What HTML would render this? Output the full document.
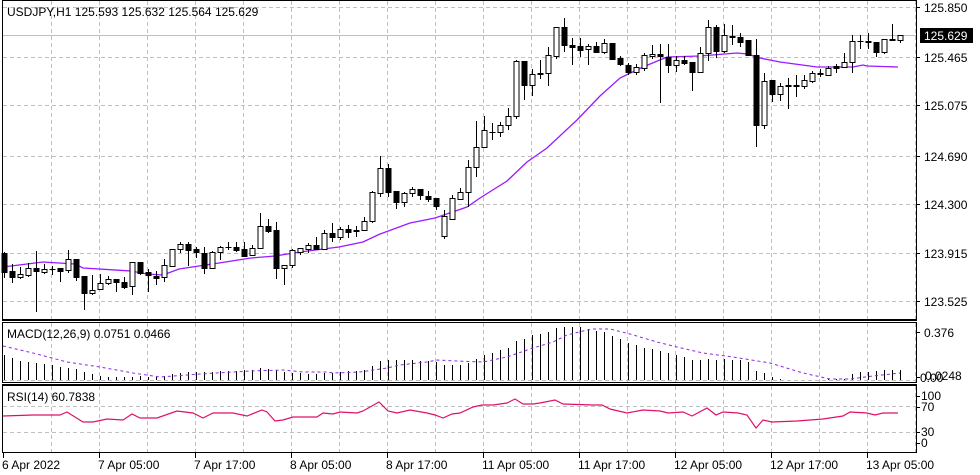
<!DOCTYPE html>
<html><head><meta charset="utf-8">
<style>
html,body{margin:0;padding:0;background:#fff;}
svg{display:block;}
text{font-family:"Liberation Sans","DejaVu Sans",sans-serif;font-size:12px;fill:#000;}
</style></head>
<body>
<svg id="c" width="980" height="475" xmlns="http://www.w3.org/2000/svg">
<rect width="980" height="475" fill="#fff"/>
<g id="grid" stroke="#c0c0c0" stroke-dasharray="4,3" stroke-width="1"></g>
<line x1="3" y1="35.5" x2="916" y2="35.5" stroke="#c0c0c0"/>
<g id="ma"></g>
<g id="candles"></g>
<g id="macd"></g>
<g id="rsi"></g>
<!-- frames -->
<rect x="2.5" y="0.5" width="914" height="319" fill="none" stroke="#000"/>
<rect x="2.5" y="322.5" width="914" height="60" fill="none" stroke="#000"/>
<rect x="2.5" y="385.5" width="914" height="67" fill="none" stroke="#000"/>
<line x1="2" y1="320.5" x2="917" y2="320.5" stroke="#000"/>
<line x1="2" y1="384.5" x2="917" y2="384.5" stroke="#000"/>
<g id="ticks" stroke="#000"></g>
<text x="7" y="16">USDJPY,H1  125.593 125.632 125.564 125.629</text>
<text x="7" y="338">MACD(12,26,9) 0.0751 0.0466</text>
<text x="7" y="401">RSI(14) 60.7838</text>
<g>
<text x="924" y="12">125.850</text>
<rect x="920" y="28" width="53" height="15" fill="#000"/>
<text x="924" y="40" style="fill:#fff">125.629</text>
<text x="924" y="62">125.465</text>
<text x="924" y="110">125.075</text>
<text x="924" y="161">124.690</text>
<text x="924" y="209">124.300</text>
<text x="924" y="258">123.915</text>
<text x="924" y="306">123.525</text>
<text x="924" y="337">0.376</text>
<text x="920" y="382">0.00</text>
<text x="925" y="380">0.0248</text>
<text x="921" y="400">100</text>
<text x="921" y="411">70</text>
<text x="921" y="436">30</text>
<text x="921" y="447">0</text>
</g>
<g>
<text x="2" y="469">6 Apr 2022</text>
<text x="98" y="469">7 Apr 05:00</text>
<text x="194" y="469">7 Apr 17:00</text>
<text x="290" y="469">8 Apr 05:00</text>
<text x="386" y="469">8 Apr 17:00</text>
<text x="482" y="469">11 Apr 05:00</text>
<text x="578" y="469">11 Apr 17:00</text>
<text x="674" y="469">12 Apr 05:00</text>
<text x="770" y="469">12 Apr 17:00</text>
<text x="866" y="469">13 Apr 05:00</text>
</g>
</svg>
<script>
var NS="http://www.w3.org/2000/svg";
function el(p,n,a){var e=document.createElementNS(NS,n);for(var k in a)e.setAttribute(k,a[k]);p.appendChild(e);return e;}
var g=document.getElementById('grid');
[7,57,105,156,204,253,301].forEach(function(y){el(g,'line',{x1:3,y1:y+.5,x2:916,y2:y+.5});});
for(var x=51.5;x<916;x+=48){
 el(g,'line',{x1:x,y1:1,x2:x,y2:319});
 el(g,'line',{x1:x,y1:323,x2:x,y2:382});
 el(g,'line',{x1:x,y1:386,x2:x,y2:452});
}
[380.5].forEach(function(y){el(g,'line',{x1:3,y1:y,x2:916,y2:y});});
[406.5,432.5].forEach(function(y){el(g,'line',{x1:3,y1:y,x2:916,y2:y});});
var tk=document.getElementById('ticks');
for(var t=3.5;t<916;t+=96){el(tk,'line',{x1:t,y1:453,x2:t,y2:458});}
[7,57,105,156,204,253,301,332,377,396,407,432,443].forEach(function(y){el(tk,'line',{x1:917,y1:y+.5,x2:920,y2:y+.5});});
// candles: [top,bottom,high,low,type] type 1=black,0=white,2=doji
var C=[[253,272,252,278,1],[271,277,264,283,1],[274,277,267,279,0],[268,275,263,277,0],[268,271,251,312,1],[269,272,264,274,0],[269,269,266,275,2],[268,271,268,282,1],[259,270,250,273,0],[259,277,259,281,1],
[276,293,276,310,1],[290,293,275,295,0],[283,289,274,290,0],[279,283,276,285,0],[279,282,279,292,1],[282,287,277,289,1],[262,286,262,295,0],[262,273,262,275,1],[272,275,269,292,1],[276,278,271,285,1],
[265,277,259,282,0],[249,266,249,267,0],[244,249,242,253,0],[244,250,242,266,1],[249,252,247,258,1],[253,268,247,274,1],[252,268,251,268,0],[247,252,246,260,0],[247,247,242,250,2],[247,250,242,252,1],
[249,256,242,256,1],[248,255,245,255,0],[226,248,213,248,0],[226,231,219,233,1],[230,268,222,279,1],[265,268,265,285,0],[250,265,249,268,0],[248,252,248,255,0],[245,249,243,253,0],[245,249,237,249,1],
[233,249,230,249,0],[233,237,223,242,1],[229,237,227,240,0],[229,232,225,238,1],[230,231,226,237,1],[221,230,217,230,0],[192,221,191,223,0],[168,193,156,197,0],[168,192,164,197,1],[191,202,191,209,1],
[193,202,192,207,0],[189,193,187,197,0],[189,195,189,200,1],[196,199,191,202,1],[198,206,198,210,1],[216,236,210,239,0],[198,219,195,219,0],[192,199,188,200,0],[167,192,160,207,0],[147,167,121,177,0],
[130,147,116,147,0],[132,132,123,140,2],[125,132,122,137,0],[116,125,108,130,0],[61,116,60,119,0],[61,85,61,100,1],[74,85,69,96,0],[73,74,60,79,0],[55,73,47,86,0],[27,56,27,59,0],
[27,45,18,52,1],[45,47,38,65,1],[46,50,38,57,1],[46,49,44,65,0],[46,52,42,52,1],[43,52,39,54,0],[43,59,43,60,1],[58,64,56,66,1],[65,72,63,75,1],[67,72,64,75,0],
[55,68,53,71,0],[54,56,45,59,0],[54,56,44,103,1],[57,65,44,73,1],[60,65,56,72,0],[60,63,56,65,1],[62,72,62,91,1],[53,72,47,73,0],[27,53,20,61,0],[27,51,25,58,1],
[35,51,24,53,0],[36,37,25,45,1],[37,42,33,47,1],[40,55,40,55,1],[55,125,39,147,1],[81,125,73,129,0],[80,94,80,102,1],[86,94,83,101,0],[85,86,78,109,1],[85,86,75,97,1],
[80,86,75,89,0],[73,81,71,83,0],[73,74,69,77,1],[68,75,66,75,0],[66,68,64,73,1],[62,67,53,67,0],[41,62,35,73,0],[41,41,35,49,2],[41,42,33,49,1],[42,52,42,57,1],
[39,52,39,54,0],[39,40,24,40,1],[35,40,35,43,0]];
var cg=document.getElementById('candles');
C.forEach(function(c,i){
 var x=Math.round(3.7+8*i)+0.5;
 el(cg,'line',{x1:x,y1:c[2],x2:x,y2:c[3],stroke:'#000'});
 var h=Math.max(c[1]-c[0],1);
 if(c[4]==2){el(cg,'line',{x1:x-3,y1:c[0]+.5,x2:x+3,y2:c[0]+.5,stroke:'#000'});}
 else el(cg,'rect',{x:x-2.5,y:c[0]+.5,width:5,height:h,fill:c[4]==1?'#000':'#fff',stroke:'#000'});
});
function poly(p,pts,attrs){attrs.points=pts.map(function(q){return q.join(',');}).join(' ');attrs.fill='none';el(p,'polyline',attrs);}
poly(document.getElementById('ma'),[[3,267],[43,262],[75,264],[83,268],[131,271],[147,274],[163,275],[179,269],[219,263],[251,258],[275,256],[300,252],[339,247],[363,242],[380,234],[410,223],[435,218],[467,207],[480,198],[507,181],[527,162],[547,148],[577,120],[600,96],[620,78],[643,67],[667,57],[700,56],[737,53],[747,54],[760,58],[780,62],[817,67],[853,67],[863,65],[867,66],[898,67]],{stroke:'#9a1aff','stroke-width':1.3});
var H=[355,358,361,362,363,364,365,367,368,369,372,374,376,377,377,377,377,376,377,377,376,374,373,372,372,372,372,371,371,371,370,370,368,369,370,372,373,373,374,374,
373,373,372,371,371,370,366,361,360,360,360,360,361,361,362,365,365,365,363,359,355,353,350,348,341,339,335,334,332,328,327,327,327,329,331,332,336,339,343,345,
348,349,351,353,355,357,360,360,359,360,359,360,360,362,371,373,377,379,380,380,380,380,380,379,379,379,374,372,372,371,370,370,370];
var mg=document.getElementById('macd');
H.forEach(function(t,i){var x=Math.round(3.7+8*i)+0.5;if(t<380)el(mg,'line',{x1:x,y1:t,x2:x,y2:380,stroke:'#000'});});
poly(mg,[[3,346],[33,353],[67,362],[100,367],[133,373],[160,377],[200,374],[250,371],[283,370],[303,372],[327,372],[333,373],[360,372],[387,368],[400,365],[427,362],[437,360],[457,361],[483,362],[507,357],[533,348],[553,342],[567,335],[583,331],[593,329],[610,329],[630,334],[657,342],[677,347],[703,353],[733,357],[770,363],[803,373],[830,379],[850,379],[873,376],[900,373]],{stroke:'#8a2be2','stroke-dasharray':'3,3'});
poly(document.getElementById('rsi'),[[3,416],[33,415],[60,415],[67,412],[83,422],[93,422],[107,419],[123,420],[132,414],[140,418],[157,418],[177,411],[193,413],[203,418],[213,413],[233,413],[247,416],[262,410],[267,412],[275,421],[283,420],[293,417],[317,417],[323,413],[333,414],[340,412],[357,413],[363,411],[379,402],[388,411],[397,413],[410,410],[427,413],[435,415],[443,418],[452,414],[460,413],[473,407],[482,405],[493,405],[500,404],[507,403],[515,399],[523,404],[533,404],[540,403],[555,400],[563,404],[593,405],[602,405],[610,409],[627,413],[643,410],[660,411],[668,413],[683,412],[692,416],[707,408],[716,415],[723,412],[738,413],[747,415],[756,428],[763,420],[772,422],[797,421],[823,419],[843,416],[850,412],[867,413],[875,415],[883,413],[898,413]],{stroke:'#e0106a','stroke-width':1.2});
</script>
</body></html>
